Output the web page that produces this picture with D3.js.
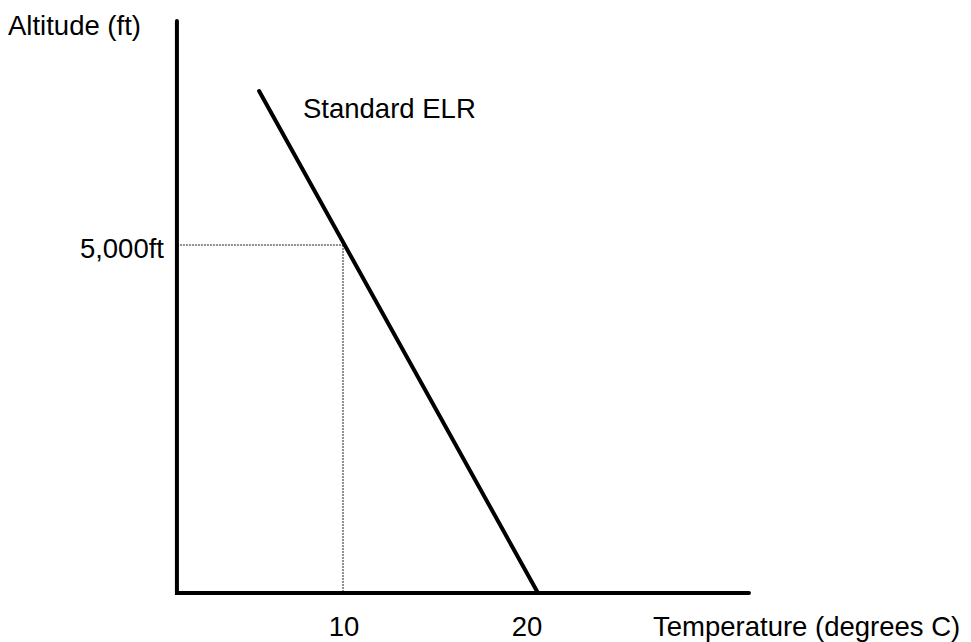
<!DOCTYPE html>
<html>
<head>
<meta charset="utf-8">
<script src="https://cdn.jsdelivr.net/npm/d3@7"></script>
<style>
  html, body { margin: 0; padding: 0; background: #fff; }
  svg { display: block; }
  text { font-family: Arial, "Liberation Sans", sans-serif; font-size: 27.5px; fill: #000; }
</style>
</head>
<body>
<svg id="chart" width="971" height="642"></svg>
<script>
// ---- data ----
const xTickValues = [10, 20];
const xTickLabels = ["10", "20"];
const yTickValues = [5000];
const yTickLabels = ["5,000ft"];
const elrTemps = [20.6, 5.36];       // degrees C
const elrAltitudes = [0, 7213];      // ft
const guideTemp = 10;
const guideAltitude = 5000;
const xExtent = [0.87, 32.13];
const yExtent = [0, 8220];
const seriesLabel = "Standard ELR";
const xTitle = "Temperature (degrees C)";
const yTitle = "Altitude (ft)";

const svg = d3.select("#chart");
const x = d3.scaleLinear().domain([10, 20]).range([344, 527]);
const y = d3.scaleLinear().domain([0, 5000]).range([593, 245]);

// guide dotted lines
svg.append("line")
  .attr("x1", x(xExtent[0])).attr("x2", x(guideTemp))
  .attr("y1", y(guideAltitude)).attr("y2", y(guideAltitude))
  .attr("stroke", "#222").attr("stroke-width", 1).attr("stroke-dasharray", "2,1");
svg.append("line")
  .attr("x1", x(guideTemp) - 1).attr("x2", x(guideTemp) - 1)
  .attr("y1", y(guideAltitude)).attr("y2", y(0))
  .attr("stroke", "#222").attr("stroke-width", 1).attr("stroke-dasharray", "2,1");

// axes
svg.append("path")
  .attr("d", d3.line()([[x(xExtent[0]), y(yExtent[1])], [x(xExtent[0]), y(0)], [x(xExtent[1]), y(0)]]))
  .attr("fill", "none").attr("stroke", "#000").attr("stroke-width", 4)
  .attr("stroke-linecap", "round").attr("stroke-linejoin", "miter");

// ELR line
const pts = elrTemps.map((t, i) => [x(t), y(elrAltitudes[i])]);
svg.append("path")
  .attr("d", d3.line()(pts))
  .attr("fill", "none").attr("stroke", "#000").attr("stroke-width", 4)
  .attr("stroke-linecap", "round");

// tick labels
svg.selectAll(".xt").data(xTickValues).enter().append("text")
  .attr("x", d => x(d)).attr("y", 636)
  .attr("text-anchor", "middle")
  .text((d, i) => xTickLabels[i]);
svg.selectAll(".yt").data(yTickValues).enter().append("text")
  .attr("x", 164).attr("y", d => y(d) + 13)
  .attr("text-anchor", "end")
  .text((d, i) => yTickLabels[i]);

// titles
svg.append("text").attr("x", 8).attr("y", 35).text(yTitle);
svg.append("text").attr("x", 653).attr("y", 636).text(xTitle);
svg.append("text").attr("x", 303).attr("y", 118).text(seriesLabel);
</script>
</body>
</html>
